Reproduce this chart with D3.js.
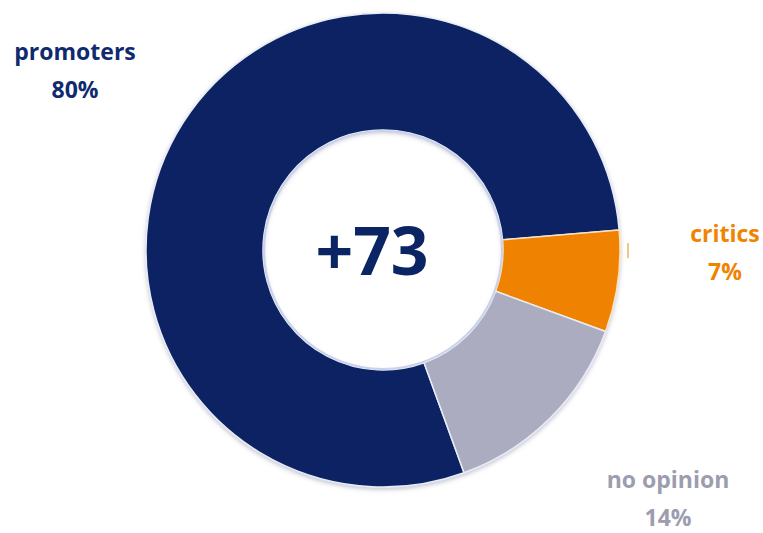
<!DOCTYPE html>
<html>
<head>
<meta charset="utf-8">
<script src="https://cdn.jsdelivr.net/npm/d3@7"></script>
<style>
  body { margin: 0; background: #fff; }
  svg { display: block; font-family: "Open Sans", "Noto Sans", sans-serif; font-weight: 700; }
</style>
</head>
<body>
<svg id="chart" width="763" height="533"></svg>
<script>
// data
var categories = ["promoters", "critics", "no opinion"];
var shares = [80, 7, 14];
var shareLabels = ["80%", "7%", "14%"];
var netScore = "+73";

var colors = d3.scaleOrdinal()
    .domain(categories)
    .range(["#0a2464", "#ef8200", "#acacc0"]);

var labelColors = d3.scaleOrdinal()
    .domain(categories)
    .range(["#0f2a6e", "#f08400", "#9c9daf"]);

// label anchor spots (px, page coords)
var labelPos = {
    "promoters": [75, 60],
    "critics": [725, 242],
    "no opinion": [668, 488]
};

var cx = 383, cy = 250,
    outerR = 237, innerR = 120;

var svg = d3.select("#chart");

var defs = svg.append("defs");
var shadow = defs.append("filter")
    .attr("id", "shadow")
    .attr("x", "-10%").attr("y", "-10%")
    .attr("width", "120%").attr("height", "120%");
shadow.append("feDropShadow")
    .attr("dx", 0).attr("dy", 2)
    .attr("stdDeviation", 2)
    .attr("flood-color", "#8a8fa8")
    .attr("flood-opacity", 0.5);

var g = svg.append("g")
    .attr("transform", "translate(" + cx + "," + cy + ")");

var deg = Math.PI / 180;
var pie = d3.pie()
    .sort(null)
    .startAngle(160 * deg)
    .endAngle(520 * deg);

var arc = d3.arc()
    .innerRadius(innerR)
    .outerRadius(outerR);

var arcs = pie(shares);

g.append("g")
    .attr("filter", "url(#shadow)")
    .selectAll("path")
    .data(arcs)
    .enter().append("path")
    .attr("d", arc)
    .attr("fill", function(d, i) { return colors(categories[i]); })
    .attr("stroke", function(d, i) { return i == 1 ? "#fbe3c0" : "#e8ecf6"; })
    .attr("stroke-width", 1.5);

// soft rim around the hole
g.append("circle")
    .attr("r", innerR - 1)
    .attr("fill", "none")
    .attr("stroke", "#c9d2ea")
    .attr("stroke-width", 2);

// little leftover leader tick by critics
var critArc = arcs[1];
var mid = (critArc.startAngle + critArc.endAngle) / 2 - 0.133;
g.append("line")
    .attr("x1", Math.sin(mid) * (outerR + 8))
    .attr("y1", -Math.cos(mid) * (outerR + 8) - 7)
    .attr("x2", Math.sin(mid) * (outerR + 8))
    .attr("y2", -Math.cos(mid) * (outerR + 8) + 8)
    .attr("stroke", "#f3c58a")
    .attr("stroke-width", 2);

g.append("text")
    .attr("text-anchor", "middle")
    .attr("x", -11)
    .attr("y", 25)
    .attr("font-size", 66)
    .attr("fill", "#0a2464")
    .text(netScore);

var labels = svg.append("g")
    .selectAll("g")
    .data(categories)
    .enter().append("g")
    .attr("transform", function(d) { return "translate(" + labelPos[d] + ")"; })
    .attr("fill", function(d) { return labelColors(d); })
    .attr("font-size", 23)
    .attr("text-anchor", "middle");

labels.append("text")
    .text(function(d) { return d; });

labels.append("text")
    .attr("y", 38)
    .text(function(d, i) { return shareLabels[i]; });
</script>
</body>
</html>
